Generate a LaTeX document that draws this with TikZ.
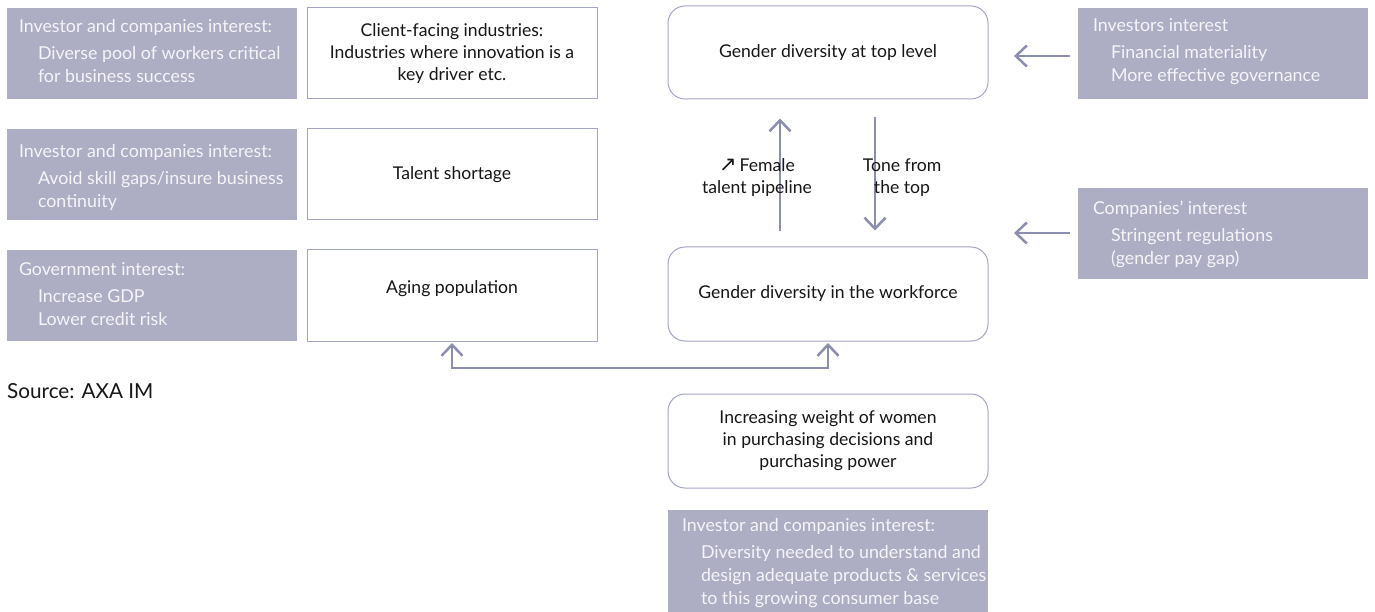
\documentclass[tikz,border=0pt]{standalone}
\usepackage{fontspec}
\setmainfont{Lato}
\newfontfamily\symfont{DejaVu Sans}
\usetikzlibrary{arrows.meta}
\definecolor{gfill}{HTML}{ADADC4}
\definecolor{bline}{HTML}{A3A5C4}
\definecolor{aline}{HTML}{8B8EAE}
\definecolor{gtext}{HTML}{F5F5F9}
\definecolor{btext}{HTML}{161616}
\tikzset{
 gbox/.style={fill=gfill, draw=none, inner sep=0pt, minimum width=290pt, minimum height=91pt},
 gtxt/.style={anchor=west, align=left, inner sep=0pt, text=gtext, font=\fontsize{17.8}{23}\selectfont},
 wbox/.style={draw=bline, line width=1pt, fill=white, inner sep=0pt, minimum width=290pt, minimum height=91pt, align=center, text=btext, font=\fontsize{17.6}{22}\selectfont},
 rbox/.style={wbox, rounded corners=17pt, minimum width=320pt, minimum height=93pt},
 conn/.style={draw=aline, line width=2.5pt, -{Straight Barb[length=11pt,width=21pt]}},
 lbl/.style={align=center, inner sep=0pt, text=btext, font=\fontsize{17.6}{22}\selectfont},
}
\begin{document}
\begin{tikzpicture}[x=1pt,y=-1pt]
\useasboundingbox (0,0) rectangle (1375,612);
% left gray boxes
\node[gbox] (g1) at (152,53.5) {};
\node[gtxt] (g1t) at ([xshift=12pt,yshift=2pt]g1.west) {Investor and companies interest:\\[4pt]\hspace*{19pt}Diverse pool of workers critical\\\hspace*{19pt}for business success};
\node[gbox] (g2) at (152,174.5) {};
\node[gtxt] (g2t) at ([xshift=12pt,yshift=-3pt]g2.west) {Investor and companies interest:\\[4pt]\hspace*{19pt}Avoid skill gaps/insure business\\\hspace*{19pt}continuity};
\node[gbox] (g3) at (152,295.5) {};
\node[gtxt] (g3t) at ([xshift=12pt,yshift=1pt]g3.west) {Government interest:\\[4pt]\hspace*{19pt}Increase GDP\\\hspace*{19pt}Lower credit risk};
% white boxes
\node[wbox] (w1) at (452,53.5) {Client-facing industries:\\Industries where innovation is a\\key driver etc.};
\node[wbox] (w2) at (452,174.5) {Talent shortage};
\node[wbox] (w3) at (452,295.5) {\raisebox{7pt}[14pt][4pt]{Aging population}};
% rounded boxes
\node[rbox] (t1) at (828,52.5) {Gender diversity at top level};
\node[rbox, minimum height=94pt] (wf) at (828,294) {Gender diversity in the workforce};
\node[rbox, minimum height=94pt] (p1) at (828,441) {Increasing weight of women\\in purchasing decisions and\\purchasing power};
% right gray boxes
\node[gbox] (r1) at (1223,53.5) {};
\node[gtxt] (r1t) at ([xshift=15pt,yshift=2pt]r1.west) {Investors interest\\[4pt]\hspace*{18pt}Financial materiality\\\hspace*{18pt}More effective governance};
\node[gbox] (r2) at (1223,233.5) {};
\node[gtxt] (r2t) at ([xshift=15pt,yshift=-1pt]r2.west) {Companies’ interest\\[4pt]\hspace*{18pt}Stringent regulations\\\hspace*{18pt}(gender pay gap)};
% bottom gray box
\node[gbox, minimum width=320pt, minimum height=102pt] (b1) at (828,561) {};
\node[gtxt] (b1t) at ([xshift=14pt,yshift=-2pt]b1.west) {Investor and companies interest:\\[4pt]\hspace*{19pt}Diversity needed to understand and\\\hspace*{19pt}design adequate products \& services\\\hspace*{19pt}to this growing consumer base};
% source
\node[anchor=west, inner sep=0pt, text=btext, font=\fontsize{20.7}{25}\selectfont] (src) at (7,391) {Source: AXA IM};
% vertical arrows between top and workforce
\draw[conn] ([xshift=-48pt,yshift=15pt]wf.north) -- ([xshift=-48pt,yshift=-19pt]t1.south);
\draw[conn] ([xshift=47pt,yshift=-18pt]t1.south) -- ([xshift=47pt,yshift=16pt]wf.north);
\node[lbl] (lab1) at (757,178) {\smash{\symfont\fontsize{21}{21}\selectfont ↗}\,Female\\talent pipeline};
\node[lbl] (lab2) at (902,178) {Tone from\\the top};
% arrows from right boxes
\coordinate (a1s) at ([xshift=-8pt,yshift=-2.5pt]r1.west);
\coordinate (a1e) at (1014,56);
\draw[conn] (a1s) -- (a1e);
\coordinate (a2s) at ([xshift=-8pt,yshift=0.5pt]r2.west);
\coordinate (a2e) at (1014,233);
\draw[conn] (a2s) -- (a2e);
% bottom bracket
\coordinate (jy) at (640,368);
\draw[draw=aline, line width=2.5pt, {Straight Barb[length=11pt,width=21pt]}-{Straight Barb[length=11pt,width=21pt]}] ([yshift=-1.5pt]w3.south) -- (w3.south |- jy) -- (wf.south |- jy) -- ([yshift=-1.5pt]wf.south);
\end{tikzpicture}
\end{document}
